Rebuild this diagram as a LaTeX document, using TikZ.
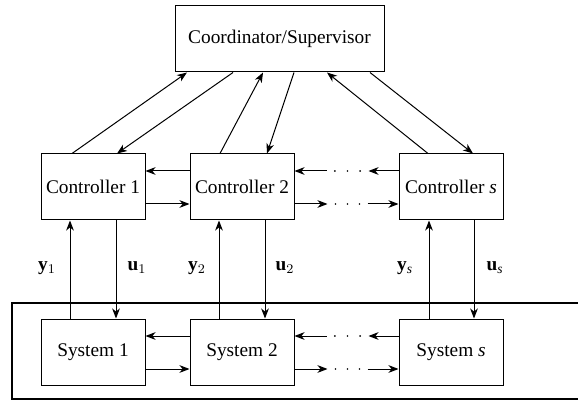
\documentclass[tikz,border=0pt]{standalone}
\usepackage{fontspec}
\setmainfont{Liberation Serif}
\usetikzlibrary{arrows.meta,calc}

\begin{document}
\begin{tikzpicture}[x=0.6pt,y=-0.6pt,
  box/.style={draw,line width=0.6pt,minimum width=62.4pt,minimum height=39.6pt,
    inner sep=0pt,font=\fontsize{11.6}{14}\selectfont},
  arr/.style={line width=0.6pt,-{Stealth[length=6pt,width=4.6pt,inset=1.8pt]}},
  lab/.style={inner sep=0pt,font=\fontsize{11.6}{14}\selectfont}]

\useasboundingbox (0,0) rectangle (578,402);

% Frame round the plant
\draw[line width=1.2pt] (600,303) -- (12,303) -- (12,399) -- (600,399);

% Boxes
\node[box,minimum width=125.4pt] (coord) at (279.5,39) {Coordinator/Supervisor};
\node[box] (ctrlA) at (93,187) {Controller 1};
\node[box] (ctrlB) at (242,187) {Controller 2};
\node[box] (ctrlS) at (451,187) {Controller \textit{s}};
\node[box] (sysA) at (93,352) {System 1};
\node[box] (sysB) at (242,352) {System 2};
\node[box] (sysS) at (451,352) {System \textit{s}};

% Coordinator <-> controllers
\draw[arr] ($(ctrlA.north)+(-21,0)$) -- ($(coord.south)+(-92.5,0)$);
\draw[arr] ($(coord.south)+(-46.5,0)$) -- ($(ctrlA.north)+(24,0)$);
\draw[arr] ($(ctrlB.north)+(-22,0)$) -- ($(coord.south)+(-16.5,0)$);
\draw[arr] ($(coord.south)+(14.5,0)$) -- ($(ctrlB.north)+(25,0)$);
\draw[arr] ($(ctrlS.north)+(-23,0)$) -- ($(coord.south)+(47.5,0)$);
\draw[arr] ($(coord.south)+(90.5,0)$) -- ($(ctrlS.north)+(22,0)$);

% Measurements and inputs
\draw[arr] ($(sysA.north)+(-23,0)$) -- ($(ctrlA.south)+(-23,0)$);
\draw[arr] ($(ctrlA.south)+(23,0)$) -- ($(sysA.north)+(23,0)$);
\draw[arr] ($(sysB.north)+(-23,0)$) -- ($(ctrlB.south)+(-23,0)$);
\draw[arr] ($(ctrlB.south)+(23,0)$) -- ($(sysB.north)+(23,0)$);
\draw[arr] ($(sysS.north)+(-22,0)$) -- ($(ctrlS.south)+(-22,0)$);
\draw[arr] ($(ctrlS.south)+(23,0)$) -- ($(sysS.north)+(23,0)$);

\node[lab] (lblYA) at (47,268) {$\mathbf{y}_1$};
\node[lab] (lblUA) at (137,268) {$\mathbf{u}_1$};
\node[lab] (lblYB) at (197,268) {$\mathbf{y}_2$};
\node[lab] (lblUB) at (285,268) {$\mathbf{u}_2$};
\node[lab] (lblYS) at (405,268) {$\mathbf{y}_{\mathit{s}}$};
\node[lab] (lblUS) at (495,268) {$\mathbf{u}_{\mathit{s}}$};

% Links between neighbours
\foreach \a/\b in {ctrlA/ctrlB,sysA/sysB}{
  \draw[arr] ($(\b.west)+(0,-16)$) -- ($(\a.east)+(0,-16)$);
  \draw[arr] ($(\a.east)+(0,17)$) -- ($(\b.west)+(0,17)$);
}
\foreach \a/\b/\n in {ctrlB/ctrlS/c,sysB/sysS/s}{
  \coordinate (\n UpL) at ($(\a.east)+(32,-16)$);
  \coordinate (\n UpR) at ($(\b.west)+(-30,-16)$);
  \coordinate (\n DnL) at ($(\a.east)+(33,17)$);
  \coordinate (\n DnR) at ($(\b.west)+(-31,17)$);
  \draw[arr] (\b.west |- \n UpR) -- (\n UpR);
  \draw[arr] (\n UpL) -- (\a.east |- \n UpL);
  \draw[arr] (\a.east |- \n DnL) -- (\n DnL);
  \draw[arr] (\n DnR) -- (\b.west |- \n DnR);
  % dots
  \foreach \f in {0.2,0.5,0.8}{
    \fill ($(\n UpL)!\f!(\n UpR)$) circle (0.55pt);
    \fill ($(\n DnL)!\f!(\n DnR)$) circle (0.55pt);
  }
}

\end{tikzpicture}
\end{document}
